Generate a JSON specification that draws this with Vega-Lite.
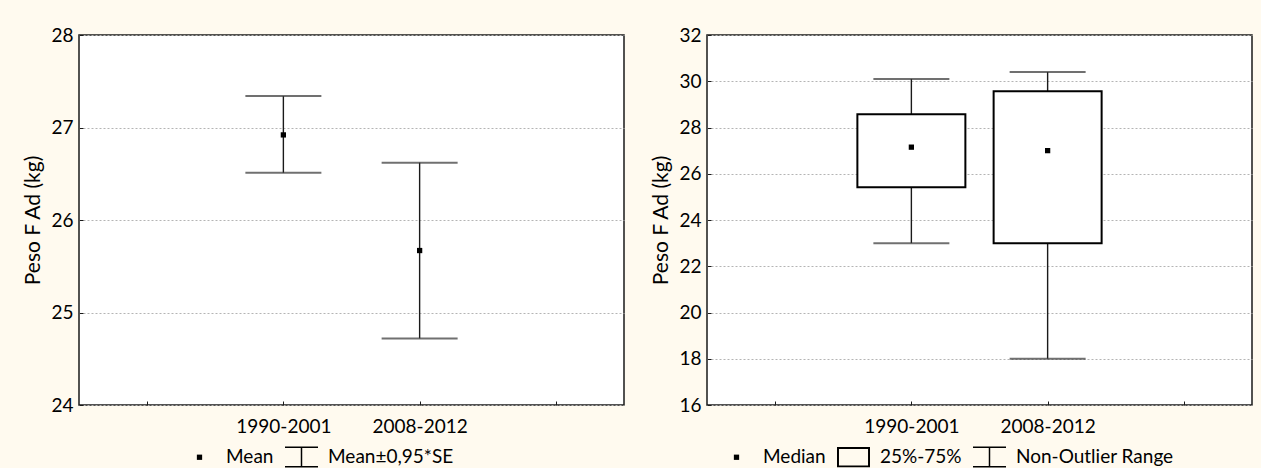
{
  "$schema": "https://vega.github.io/schema/vega-lite/v6.json",
  "background": "#FFFAEF",
  "padding": {"left": 22, "top": 25, "right": 12, "bottom": 0},
  "spacing": 25,
  "config": {
    "font": "Lato",
    "view": {"fill": "white", "stroke": "#1a1a1a", "strokeWidth": 1.5},
    "axis": {
      "labelFont": "Lato",
      "titleFont": "Lato",
      "labelFontSize": 19,
      "titleFontSize": 21,
      "labelColor": "black",
      "titleColor": "black",
      "titleFontWeight": "normal",
      "domain": false,
      "tickColor": "#1a1a1a",
      "tickSize": -4,
      "grid": false
    },
    "axisX": {"labelPadding": 16, "labelAngle": 0},
    "axisY": {"labelPadding": 10, "titlePadding": 7, "grid": true, "gridColor": "#b4b4b4", "gridDash": [2, 2], "format": "d"},
    "legend": {
      "direction": "horizontal",
      "labelFont": "Lato",
      "labelFontSize": 19,
      "labelColor": "black",
      "symbolSize": 1089,
      "symbolStrokeWidth": 0,
      "symbolFillColor": "black",
      "symbolOpacity": 1,
      "labelOffset": 10,
      "columnPadding": 11,
      "padding": 0
    }
  },
  "datasets": {
    "media": [
      {"periodo": "1990-2001", "media": 26.92, "inf": 26.51, "sup": 27.34},
      {"periodo": "2008-2012", "media": 25.67, "inf": 24.72, "sup": 26.62}
    ],
    "caixa": [
      {"periodo": "1990-2001", "mediana": 27.15, "q1": 25.42, "q3": 28.57, "min": 23.0, "max": 30.1},
      {"periodo": "2008-2012", "mediana": 27.0, "q1": 23.0, "q3": 29.57, "min": 18.0, "max": 30.4}
    ]
  },
  "resolve": {
    "scale": {"x": "independent", "y": "independent", "shape": "independent"},
    "legend": {"shape": "independent"}
  },
  "hconcat": [
    {
      "width": 545,
      "height": 370,
      "data": {"name": "media"},
      "encoding": {
        "x": {
          "field": "periodo",
          "type": "nominal",
          "title": null,
          "scale": {"type": "point", "domain": [" ", "1990-2001", "2008-2012", "  "], "padding": 0.5}
        }
      },
      "layer": [
        {
          "mark": {"type": "rule", "color": "#1a1a1a", "strokeWidth": 1.4},
          "encoding": {
            "y": {
              "field": "inf",
              "type": "quantitative",
              "title": "Peso F Ad (kg)",
              "scale": {"domain": [24, 28], "nice": false, "zero": false},
              "axis": {"values": [24, 25, 26, 27, 28]}
            },
            "y2": {"field": "sup"}
          }
        },
        {
          "mark": {"type": "tick", "color": "#333333", "thickness": 2, "size": 76},
          "encoding": {"y": {"field": "inf", "type": "quantitative", "title": "Peso F Ad (kg)"}}
        },
        {
          "mark": {"type": "tick", "color": "#333333", "thickness": 2, "size": 76},
          "encoding": {"y": {"field": "sup", "type": "quantitative", "title": "Peso F Ad (kg)"}}
        },
        {
          "mark": {"type": "point", "filled": true, "size": 1089, "color": "black", "opacity": 1},
          "encoding": {
            "y": {"field": "media", "type": "quantitative", "title": "Peso F Ad (kg)"},
            "shape": {
              "datum": "Mean",
              "scale": {
                "domain": ["Mean", "Mean±0,95*SE"],
                "range": [
                  "M-0.16,-0.16H0.16V0.16H-0.16Z",
                  "M-1,-0.64H1V-0.55H-1ZM-0.045,-0.55H0.045V0.55H-0.045ZM-1,0.55H1V0.64H-1Z"
                ]
              },
              "legend": {"title": null, "orient": "none", "legendX": 104, "legendY": 405}
            }
          }
        }
      ]
    },
    {
      "width": 545,
      "height": 370,
      "data": {"name": "caixa"},
      "encoding": {
        "x": {
          "field": "periodo",
          "type": "nominal",
          "title": null,
          "scale": {"type": "point", "domain": [" ", "1990-2001", "2008-2012", "  "], "padding": 0.5}
        }
      },
      "layer": [
        {
          "mark": {"type": "rule", "color": "#1a1a1a", "strokeWidth": 1.4},
          "encoding": {
            "y": {
              "field": "min",
              "type": "quantitative",
              "title": "Peso F Ad (kg)",
              "scale": {"domain": [16, 32], "nice": false, "zero": false},
              "axis": {"values": [16, 18, 20, 22, 24, 26, 28, 30, 32]}
            },
            "y2": {"field": "max"}
          }
        },
        {
          "mark": {"type": "tick", "color": "#333333", "thickness": 2, "size": 76},
          "encoding": {"y": {"field": "min", "type": "quantitative", "title": "Peso F Ad (kg)"}}
        },
        {
          "mark": {"type": "tick", "color": "#333333", "thickness": 2, "size": 76},
          "encoding": {"y": {"field": "max", "type": "quantitative", "title": "Peso F Ad (kg)"}}
        },
        {
          "mark": {"type": "bar", "fill": "white", "stroke": "black", "strokeWidth": 2, "size": 108},
          "encoding": {
            "y": {"field": "q1", "type": "quantitative", "title": "Peso F Ad (kg)"},
            "y2": {"field": "q3"}
          }
        },
        {
          "mark": {"type": "point", "filled": true, "size": 1089, "color": "black", "opacity": 1},
          "encoding": {
            "y": {"field": "mediana", "type": "quantitative", "title": "Peso F Ad (kg)"},
            "shape": {
              "datum": "Median",
              "scale": {
                "domain": ["Median", "25%-75%", "Non-Outlier Range"],
                "range": [
                  "M-0.16,-0.16H0.16V0.16H-0.16Z",
                  "M-1,-0.62H1V0.62H-1ZM-0.88,-0.5V0.5H0.88V-0.5Z",
                  "M-1,-0.64H1V-0.55H-1ZM-0.045,-0.55H0.045V0.55H-0.045ZM-1,0.55H1V0.64H-1Z"
                ]
              },
              "legend": {"title": null, "orient": "none", "legendX": 13, "legendY": 405}
            }
          }
        }
      ]
    }
  ]
}
